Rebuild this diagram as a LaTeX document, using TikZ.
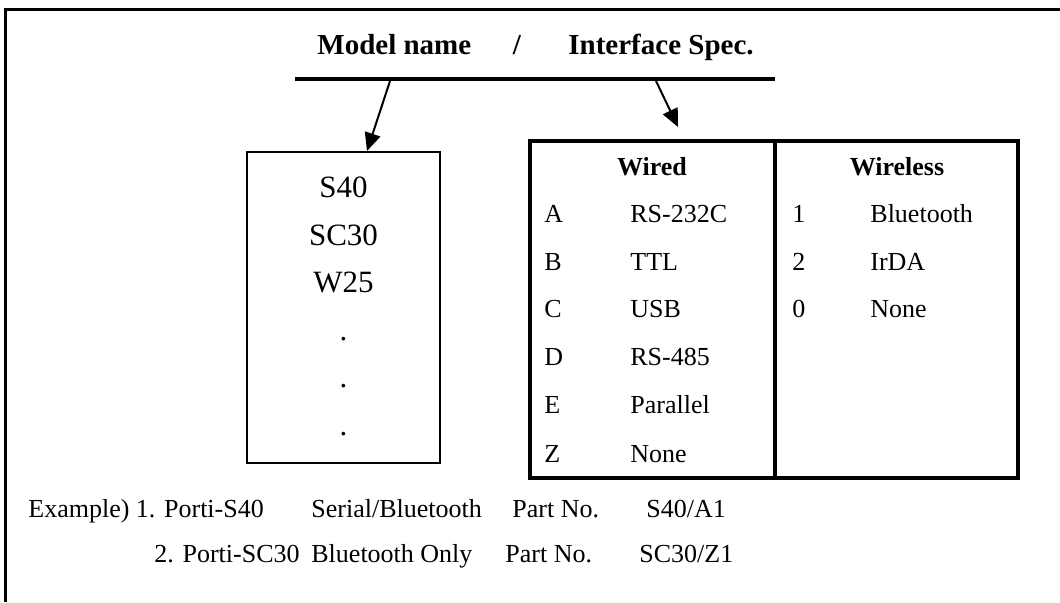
\documentclass[tikz,border=0pt]{standalone}
\usepackage{fontspec}
\setmainfont{Liberation Serif}
\usetikzlibrary{arrows.meta}

\tikzstyle{txt} = [inner sep=0pt, anchor=base west, font=\fontsize{13}{15}\selectfont]
\tikzstyle{head} = [inner sep=0pt, anchor=base west, font=\bfseries\fontsize{14.5}{17}\selectfont]
\tikzstyle{colhead} = [inner sep=0pt, anchor=base, font=\bfseries\fontsize{13}{15}\selectfont]
\tikzstyle{model} = [inner sep=0pt, anchor=base, font=\fontsize{15.5}{18}\selectfont]
\tikzstyle{pointer} = [line width=1pt, -{Triangle[length=9pt,width=8pt]}]
\tikzstyle{cell} = [draw, line width=1.75pt, inner sep=0pt]

\begin{document}
\begin{tikzpicture}[x=0.5pt, y=-0.5pt]
\useasboundingbox (0,0) rectangle (1060,602);

% frame
\draw[line width=1.5pt] (5.5,602) -- (5.5,9) -- (1060,9);

% heading
\node[head] (model) at (317,54) {Model name};
\node[head, anchor=base] (slash) at (517,54) {/};
\node[head] (iface) at (568,54) {Interface Spec.};

\coordinate (barL) at (295,79);
\coordinate (barR) at (775,79);
\draw[line width=2.25pt] (barL) -- (barR);

% model names
\node[draw, line width=0.85pt, minimum width=96.5pt, minimum height=155.5pt, inner sep=0pt] (modelbox) at (343.5,307.5) {};
\node[model] (s40) at (343.5,197) {S40};
\node[model] (sc30) at (343.5,245) {SC30};
\node[model] (w25) at (343.5,292) {W25};
\node[model] (dot1) at (343.5,340) {.};
\node[model] (dot2) at (343.5,387) {.};
\node[model] (dot3) at (343.5,435) {.};

% interface table
\node[cell, minimum width=122.5pt, minimum height=168.5pt] (wiredbox) at (652.5,309.5) {};
\node[cell, minimum width=121.5pt, minimum height=168.5pt] (wirelessbox) at (896.5,309.5) {};
\node[colhead] (wired) at (652,175) {Wired};
\node[colhead] (wireless) at (897,175) {Wireless};

\node[txt] (kA) at (544,222) {A};
\node[txt] (nA) at (630,222) {RS-232C};
\node[txt] (kB) at (544,270) {B};
\node[txt] (nB) at (630,270) {TTL};
\node[txt] (kC) at (544,317) {C};
\node[txt] (nC) at (630,317) {USB};
\node[txt] (kD) at (544,365) {D};
\node[txt] (nD) at (630,365) {RS-485};
\node[txt] (kE) at (544,413) {E};
\node[txt] (nE) at (630,413) {Parallel};
\node[txt] (kZ) at (544,462) {Z};
\node[txt] (nZ) at (630,462) {None};

\node[txt] (k1) at (792,222) {1};
\node[txt] (n1) at (870,222) {Bluetooth};
\node[txt] (k2) at (792,270) {2};
\node[txt] (n2) at (870,270) {IrDA};
\node[txt] (k0) at (792,317) {0};
\node[txt] (n0) at (870,317) {None};

% arrows
\coordinate (p1) at (390,81);
\coordinate (q1) at (367,151);
\coordinate (p2) at (656,81);
\coordinate (q2) at (678,127);
\draw[pointer] (p1) -- (q1);
\draw[pointer] (p2) -- (q2);

% examples
\node[txt] (ex1) at (28,517) {Example) 1. Porti-S40};
\node[txt] (ex1if) at (311,517) {Serial/Bluetooth};
\node[txt] (ex1pn) at (512,517) {Part No.};
\node[txt] (ex1no) at (646,517) {S40/A1};
\node[txt, anchor=base east] (ex2) at (300,562) {2. Porti-SC30};
\node[txt] (ex2if) at (311,562) {Bluetooth Only};
\node[txt] (ex2pn) at (505,562) {Part No.};
\node[txt] (ex2no) at (639,562) {SC30/Z1};
\end{tikzpicture}
\end{document}
